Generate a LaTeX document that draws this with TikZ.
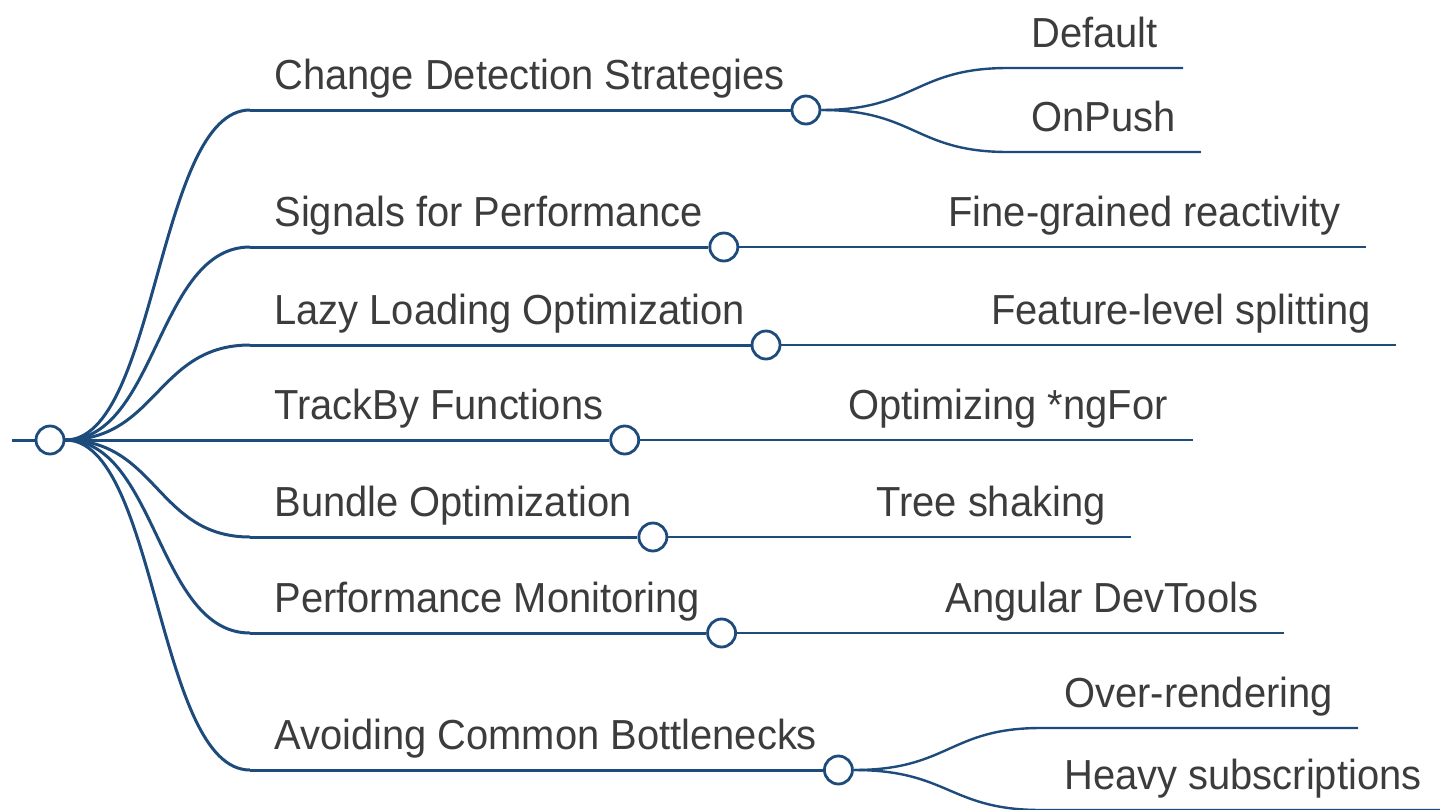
\documentclass[tikz,border=0pt]{standalone}
\usepackage{fontspec}
\setmainfont[FakeStretch=0.95]{Liberation Sans}
\usetikzlibrary{calc}
\definecolor{lk}{HTML}{1C4B7C}
\definecolor{tx}{HTML}{3C3C3C}
\begin{document}
\begin{tikzpicture}[x=0.5pt,y=-0.5pt,
  lbl/.style={font=\fontsize{21}{25}\selectfont, text=tx, inner sep=0pt, anchor=base west},
  dot/.style={circle, draw=lk, fill=white, line width=1.4pt, minimum size=14pt, inner sep=0pt},
  mainlink/.style={draw=lk, line width=1.5pt},
  sublink/.style={draw=lk, line width=1.2pt}]
\useasboundingbox (0,0) rectangle (1440,809);

% root
\coordinate (rs) at (12,440);
\node[dot] (root) at (50,440) {};

% main labels
\node[lbl] (t1) at (274,89)  {Change Detection Strategies};
\node[lbl] (t2) at (274,226) {Signals for Performance};
\node[lbl] (t3) at (274,324) {Lazy Loading Optimization};
\node[lbl] (t4) at (274,419) {TrackBy Functions};
\node[lbl] (t5) at (274,516) {Bundle Optimization};
\node[lbl] (t6) at (274,612) {Performance Monitoring};
\node[lbl] (t7) at (274,749) {Avoiding Common Bottlenecks};

% line starts
\coordinate (b1) at (250,110);
\coordinate (b2) at (250,247);
\coordinate (b3) at (250,345);
\coordinate (b4) at (250,440);
\coordinate (b5) at (250,537);
\coordinate (b6) at (250,633);
\coordinate (b7) at (250,770);

% child labels
\node[lbl] (d1a) at (1031,47)  {Default};
\node[lbl] (d1b) at (1031,131) {OnPush};
\node[lbl] (d2)  at (948,226)  {Fine-grained reactivity};
\node[lbl] (d3)  at (991,324)  {Feature-level splitting};
\node[lbl] (d4)  at (848,419)  {Optimizing *ngFor};
\node[lbl] (d5)  at (876,516)  {Tree shaking};
\node[lbl] (d6)  at (945,612)  {Angular DevTools};
\node[lbl] (d7a) at (1064,707) {Over-rendering};
\node[lbl] (d7b) at (1064,789) {Heavy subscriptions};

% child underline ends
\foreach \n in {d1a,d1b,d2,d3,d4,d5,d6,d7a,d7b}{
  \path (\n.base east) ++(25,21) coordinate (\n e);
}
\coordinate (d1as) at (1008,68);
\coordinate (d1bs) at (1008,152);
\coordinate (d7as) at (1041,728);
\coordinate (d7bs) at (1041,810);

% links root -> main
\draw[mainlink] (rs) -- (root.west);
\draw[mainlink] (root.east) .. controls (157,440) and (157,110) .. (b1);
\draw[mainlink] (root.east) .. controls (157,440) and (157,247) .. (b2);
\draw[mainlink] (root.east) .. controls (157,440) and (157,345) .. (b3);
\draw[mainlink] (root.east) -- (b4);
\draw[mainlink] (root.east) .. controls (157,440) and (157,537) .. (b5);
\draw[mainlink] (root.east) .. controls (157,440) and (157,633) .. (b6);
\draw[mainlink] (root.east) .. controls (157,440) and (157,770) .. (b7);

% main circles
\path (t1.base east) ++(21,21) node[dot] (c1) {};
\path (t2.base east) ++(21,21) node[dot] (c2) {};
\path (t3.base east) ++(21,21) node[dot] (c3) {};
\path (t4.base east) ++(21,21) node[dot] (c4) {};
\path (t5.base east) ++(21,21) node[dot] (c5) {};
\path (t6.base east) ++(21,21) node[dot] (c6) {};
\path (t7.base east) ++(21,21) node[dot] (c7) {};

\draw[mainlink] (b1) -- (c1.west);
\draw[mainlink] (b2) -- (c2.west);
\draw[mainlink] (b3) -- (c3.west);
\draw[mainlink] (b4) -- (c4.west);
\draw[mainlink] (b5) -- (c5.west);
\draw[mainlink] (b6) -- (c6.west);
\draw[mainlink] (b7) -- (c7.west);

% links main -> children
\draw[sublink] (c1.east) .. controls (915,110) and (915,68) .. (d1as) -- (d1ae);
\draw[sublink] (c1.east) .. controls (915,110) and (915,152) .. (d1bs) -- (d1be);
\draw[sublink] (c2.east) -- (d2e);
\draw[sublink] (c3.east) -- (d3e);
\draw[sublink] (c4.east) -- (d4e);
\draw[sublink] (c5.east) -- (d5e);
\draw[sublink] (c6.east) -- (d6e);
\draw[sublink] (c7.east) .. controls (949,770) and (949,728) .. (d7as) -- (d7ae);
\draw[sublink] (c7.east) .. controls (949,770) and (949,810) .. (d7bs) -- (d7be);
\end{tikzpicture}
\end{document}
